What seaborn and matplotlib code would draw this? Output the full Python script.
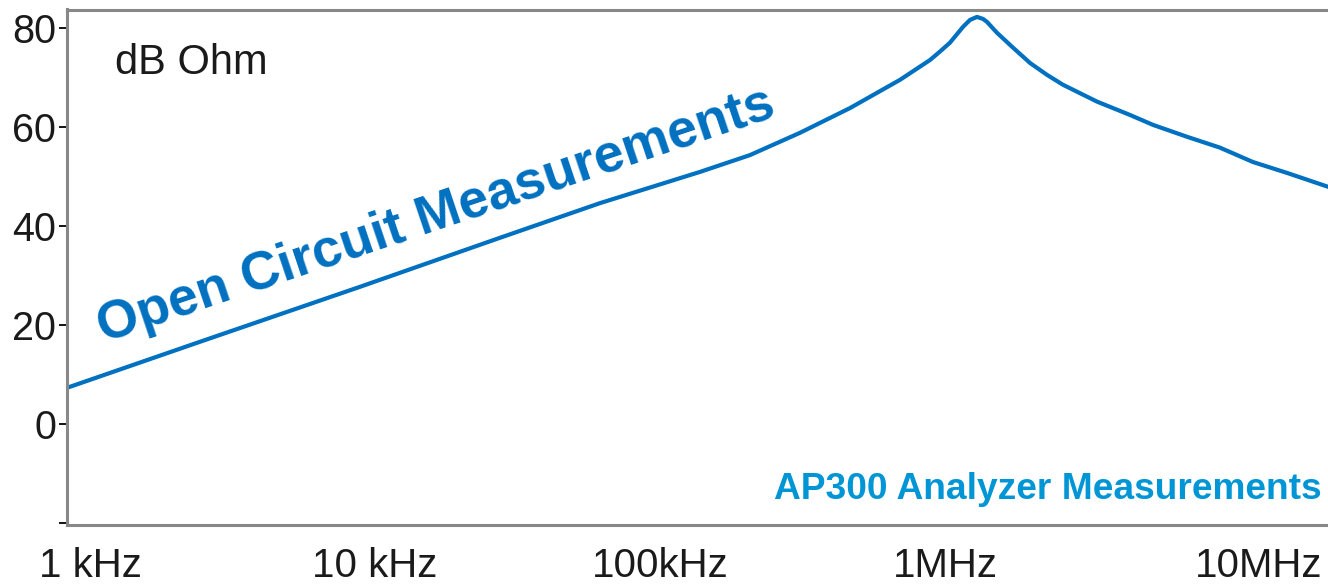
import numpy as np
import pandas as pd
import matplotlib
matplotlib.use("Agg")
import matplotlib.pyplot as plt
import matplotlib.transforms as mtransforms
import seaborn as sns

# Data
freq_hz = [830, 2432, 8860, 27450, 61600, 138100, 206900, 309900, 464300,
           695400, 886000, 960000, 1.041e6, 1.157e6, 1.224e6, 1.295e6,
           1.359e6, 1.404e6, 1.522e6, 1.732e6, 1.988e6, 2.280e6, 2.594e6,
           3.415e6, 4.459e6, 5.368e6, 7.065e6, 9.224e6, 1.204e7, 1.585e7,
           2.208e7]
impedance_db = [7.3, 16.6, 27.7, 37.6, 44.6, 50.9, 54.3, 58.8, 63.8,
                69.5, 73.5, 75.2, 77.0, 80.2, 81.6, 82.2,
                81.8, 81.2, 79.0, 76.0, 72.9, 70.5, 68.5,
                65.1, 62.4, 60.4, 58.0, 55.8, 52.9, 50.7,
                47.9]
x_ticks = [1e3, 1e4, 1e5, 1e6, 1e7]
x_tick_labels = ["1 kHz", "10 kHz", "100kHz", "1MHz", "10MHz"]
y_ticks = [-20, 0, 20, 40, 60, 80]
y_tick_labels = ["", "0", "20", "40", "60", "80"]

df = pd.DataFrame({"freq": freq_hz, "db": impedance_db})

sns.set_style("white")
plt.rcParams["font.family"] = ["Liberation Sans", "DejaVu Sans"]

W, H = 1328, 585
fig = plt.figure(figsize=(W / 100, H / 100), dpi=100)
ax = fig.add_axes([67 / W, 1 - 525 / H, 1 - 67 / W, (525 - 9.5) / H])

sns.lineplot(data=df, x="freq", y="db", ax=ax, color="#0070C0",
             linewidth=3.0, estimator=None, sort=False)
ax.lines[0].set_solid_joinstyle("round")
ax.set_xscale("log")
ax.set_xlim(10 ** 2.9193, 10 ** 7.3439)
ax.set_ylim(-20.4, 83.7)
ax.set_xlabel("")
ax.set_ylabel("")

ax.set_xticks(x_ticks)
ax.set_xticklabels(x_tick_labels)
ax.xaxis.set_minor_locator(matplotlib.ticker.NullLocator())
ax.set_yticks(y_ticks)
ax.set_yticklabels(y_tick_labels)

ax.tick_params(axis="x", length=0, pad=16, labelsize=29, labelcolor="#1a1a1a")
ax.tick_params(axis="y", length=6, width=1.3, color="black", pad=2,
               labelsize=28.5, labelcolor="#1a1a1a", left=True)

# shift the last x label to match the reference placement
lbls = ax.get_xticklabels()
offset = mtransforms.ScaledTranslation(29 / 100, 0, fig.dpi_scale_trans)
lbls[-1].set_transform(lbls[-1].get_transform() + offset)

for side in ["left", "top", "bottom"]:
    ax.spines[side].set_color("#888888")
    ax.spines[side].set_linewidth(2.2)
ax.spines["right"].set_visible(False)

fig.text(115 / W, 1 - 63 / H, "dB Ohm", fontsize=30, color="#1a1a1a",
         ha="left", va="center")
fig.text(103 / W, 1 - 343 / H, "Open Circuit Measurements", fontsize=38.5,
         fontweight="bold", color="#0070C0", rotation=18.6,
         rotation_mode="anchor", ha="left", va="baseline")
fig.text(1322 / W, 1 - 499 / H, "AP300 Analyzer Measurements", fontsize=26.7,
         fontweight="bold", color="#0096D6", ha="right", va="baseline")

fig.savefig("out.png", dpi=100)
